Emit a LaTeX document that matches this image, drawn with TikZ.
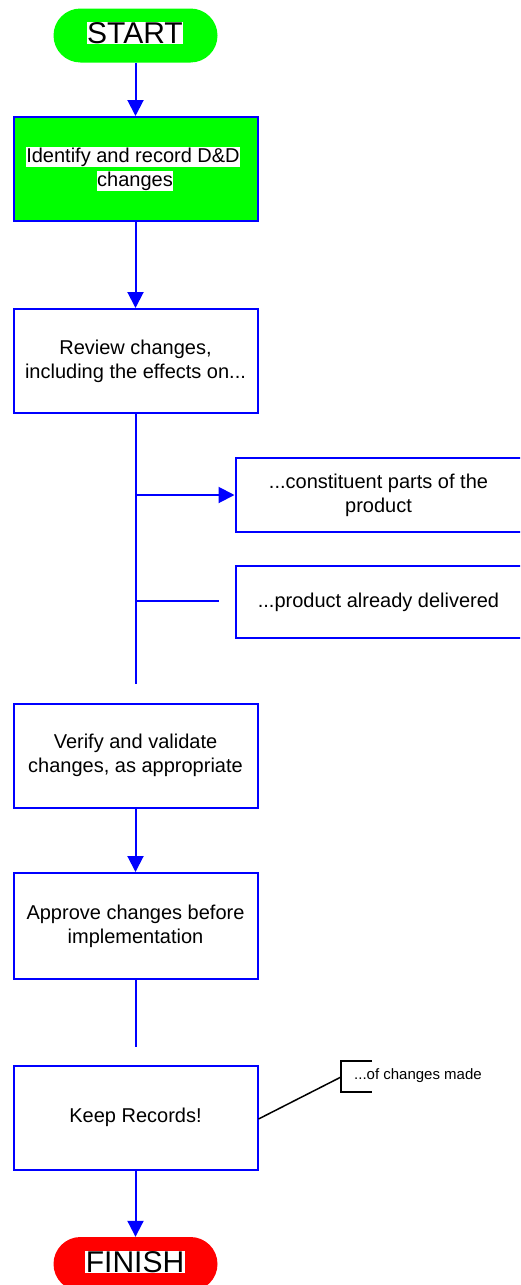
\documentclass[tikz,border=0pt]{standalone}
\usepackage{fontspec}
\setmainfont{Liberation Sans}
\usetikzlibrary{arrows.meta}
\definecolor{flowgreen}{RGB}{0,255,0}
\definecolor{flowblue}{RGB}{0,0,255}
\definecolor{flowred}{RGB}{255,0,0}
\begin{document}
\begin{tikzpicture}[x=1pt,y=-1pt,
  stepbox/.style={draw=flowblue,line width=2pt,fill=white,minimum width=244pt,minimum height=104pt,
    align=center,font=\fontsize{20}{24}\selectfont,inner sep=0pt},
  sidebox/.style={draw=flowblue,line width=2pt,fill=white,minimum width=286pt,minimum height=74pt,
    align=center,font=\fontsize{20}{24}\selectfont,inner sep=0pt},
  terminal/.style={rounded corners=27pt,minimum width=164pt,minimum height=54pt,inner sep=0pt},
  termtext/.style={fill=white,inner sep=0.5pt,font=\fontsize{30}{36}\selectfont},
  hilite/.style={fill=white,inner sep=0.5pt,font=\fontsize{20}{24}\selectfont},
  flow/.style={draw=flowblue,line width=2pt},
  arr/.style={flow,-{Triangle[length=16pt,width=16pt]}},
  callout/.style={draw=black,line width=1.5pt}]
\useasboundingbox (0,0) rectangle (520,1285);
\clip (0,0) rectangle (520,1285);

% terminals
\node[terminal,fill=flowgreen] (start) at (135.5,35.5) {};
\node[termtext] (starttxt) at (135,33) {START};
\node[terminal,fill=flowred] (finish) at (135.5,1264) {};
\node[termtext] (finishtxt) at (135,1262) {FINISH};

% main steps
\node[stepbox,fill=flowgreen] (ident) at (135.5,169) {};
\node[hilite] (ident1) at (133,157) {Identify and record D\&D};
\node[hilite] (ident2) at (135,181) {changes};
\node[stepbox] (review) at (135.5,361) {Review changes,\\including the effects on...};
\node[stepbox] (verify) at (135.5,755.5) {Verify and validate\\changes, as appropriate};
\node[stepbox,minimum height=106pt] (approve) at (135.5,926) {Approve changes before\\implementation};
\node[stepbox] (keep) at (135.5,1117.5) {Keep Records!};

% side boxes
\node[sidebox] (parts) at (378.5,495) {...constituent parts of the\\product};
\node[sidebox,minimum height=72pt] (deliv) at (378.5,602) {...product already delivered};

% connectors
\draw[arr] (start.south) -- (ident.north);
\draw[arr] (ident.south) -- (review.north);
\coordinate (spineend) at (135.5,684);
\coordinate (b1) at (135.5,495);
\coordinate (b2) at (135.5,601);
\coordinate (b2end) at (219,601);
\draw[flow] (review.south) -- (spineend);
\draw[arr] (b1) -- (parts.west);
\draw[flow] (b2) -- (b2end);
\draw[arr] (verify.south) -- (approve.north);
\coordinate (apend) at (135.5,1047);
\draw[flow] (approve.south) -- (apend);
\draw[arr] (keep.south) -- (finish.north);

% note on records
\coordinate (brtop) at (372,1061);
\coordinate (brmid) at (341,1077);
\coordinate (brbot) at (372,1092);
\draw[callout] (brtop) -- (341,1061) -- (341,1092) -- (brbot);
\draw[callout] (keep.east |- 0,1119) -- (brmid);
\node[anchor=west,inner sep=0pt,font=\fontsize{15}{18}\selectfont] (note) at (354,1076) {...of changes made};
\end{tikzpicture}
\end{document}
